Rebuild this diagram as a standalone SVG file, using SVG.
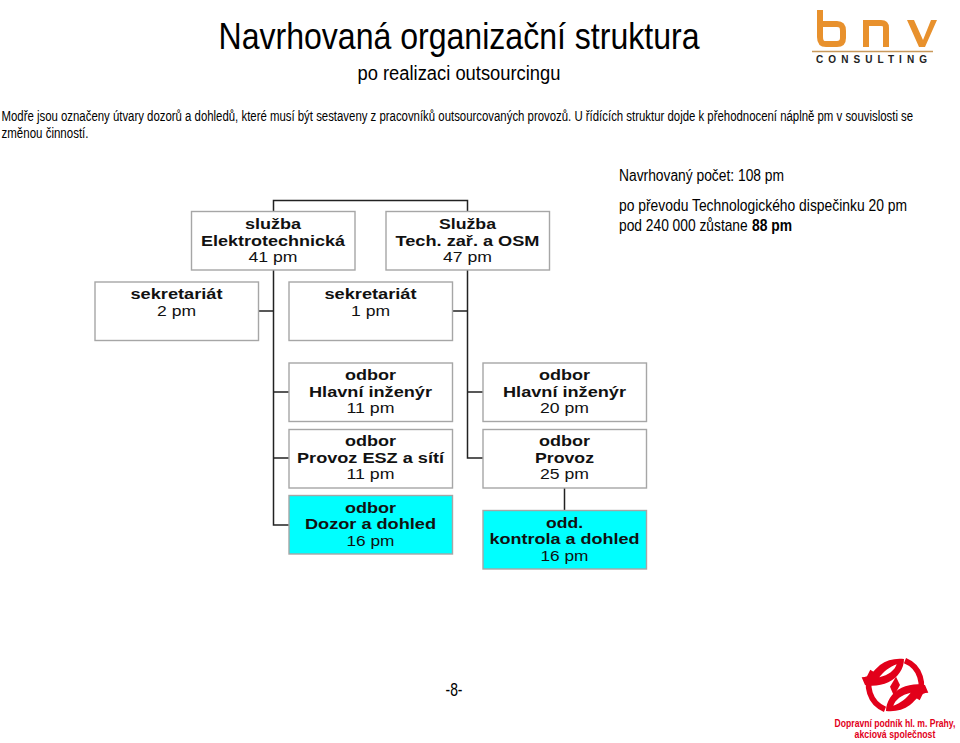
<svg xmlns="http://www.w3.org/2000/svg" width="960" height="743" viewBox="0 0 960 743">
<style>
text{font-family:"Liberation Sans Narrow","Liberation Sans",Arial,sans-serif;fill:#000}
.box{fill:#fff;stroke:#a6a6a6;stroke-width:1.4}
.cy{fill:#00ffff}
.n{font-family:"Liberation Sans",Arial,sans-serif;font-size:14px;text-anchor:middle;fill:#111}
.b{font-weight:700}
.c{fill:none;stroke:#222;stroke-width:1.5}
.w{font-family:"Liberation Sans",Arial,sans-serif}
.r{fill:#e2001a;font-size:10.500px;font-weight:700;text-anchor:middle}
</style>
<rect width="960" height="743" fill="#fff"/>
<text x="459" y="49" font-size="36" text-anchor="middle" textLength="481" lengthAdjust="spacingAndGlyphs">Navrhovaná organizační struktura</text>
<text x="459" y="80" font-size="20" text-anchor="middle" textLength="203" lengthAdjust="spacingAndGlyphs">po realizaci outsourcingu</text>
<text class="w" transform="translate(1.500 121) scale(.825 1)" font-size="13.800" textLength="1105" lengthAdjust="spacingAndGlyphs">Modře jsou označeny útvary dozorů a dohledů, které musí být sestaveny z pracovníků outsourcovaných provozů. U řídících struktur dojde k přehodnocení náplně pm v souvislosti se</text>
<text x="1.500" y="138" font-size="13.800" textLength="87" lengthAdjust="spacingAndGlyphs">změnou činností.</text>
<text x="619" y="181" font-size="16" textLength="165" lengthAdjust="spacingAndGlyphs">Navrhovaný počet: 108 pm</text>
<text x="619" y="211" font-size="16" textLength="288" lengthAdjust="spacingAndGlyphs">po převodu Technologického dispečinku 20 pm</text>
<text class="w" transform="translate(619 231) scale(.825 1)" font-size="16" textLength="156" lengthAdjust="spacingAndGlyphs">pod 240 000 zůstane</text>
<text x="752" y="231" font-size="16" font-weight="700" textLength="40" lengthAdjust="spacingAndGlyphs">88 pm</text>

<g id="connectors">
<path class="c" d="M273.500 211V200.500H467.500V211"/>
<path class="c" d="M273.500 270V525H289M258 311H273.500M273.500 392H289M273.500 458H289"/>
<path class="c" d="M467.500 270V458H483M452 311H467.500M467.500 392H483M564.500 487V510"/>
</g>

<g id="n1"><rect class="box" x="191.500" y="211.500" width="163.500" height="58.500"/><text class="n b" x="273" y="229" textLength="56" lengthAdjust="spacingAndGlyphs">služba</text><text class="n b" x="273" y="245.500" textLength="144" lengthAdjust="spacingAndGlyphs">Elektrotechnická</text><text class="n" x="273" y="262" textLength="49" lengthAdjust="spacingAndGlyphs">41 pm</text></g>
<g id="n2"><rect class="box" x="386" y="211.500" width="163.500" height="58.500"/><text class="n b" x="467.500" y="229" textLength="57" lengthAdjust="spacingAndGlyphs">Služba</text><text class="n b" x="467.500" y="245.500" textLength="144" lengthAdjust="spacingAndGlyphs">Tech. zař. a OSM</text><text class="n" x="467.500" y="262" textLength="49" lengthAdjust="spacingAndGlyphs">47 pm</text></g>
<g id="n3"><rect class="box" x="95" y="282" width="163.500" height="58.500"/><text class="n b" x="176.500" y="299" textLength="92" lengthAdjust="spacingAndGlyphs">sekretariát</text><text class="n" x="176.500" y="315.500" textLength="39" lengthAdjust="spacingAndGlyphs">2 pm</text></g>
<g id="n4"><rect class="box" x="289" y="282" width="163.500" height="58.500"/><text class="n b" x="370.500" y="299" textLength="92" lengthAdjust="spacingAndGlyphs">sekretariát</text><text class="n" x="370.500" y="315.500" textLength="39" lengthAdjust="spacingAndGlyphs">1 pm</text></g>
<g id="n5"><rect class="box" x="289" y="363" width="163.500" height="58.500"/><text class="n b" x="370.500" y="380" textLength="51" lengthAdjust="spacingAndGlyphs">odbor</text><text class="n b" x="370.500" y="396.500" textLength="123" lengthAdjust="spacingAndGlyphs">Hlavní inženýr</text><text class="n" x="370.500" y="413" textLength="48" lengthAdjust="spacingAndGlyphs">11 pm</text></g>
<g id="n6"><rect class="box" x="289" y="429.500" width="163.500" height="58.500"/><text class="n b" x="370.500" y="446" textLength="51" lengthAdjust="spacingAndGlyphs">odbor</text><text class="n b" x="370.500" y="462.500" textLength="147" lengthAdjust="spacingAndGlyphs">Provoz ESZ a sítí</text><text class="n" x="370.500" y="479" textLength="48" lengthAdjust="spacingAndGlyphs">11 pm</text></g>
<g id="n7"><rect class="box cy" x="289" y="495.500" width="163.500" height="58.500"/><text class="n b" x="370.500" y="513" textLength="51" lengthAdjust="spacingAndGlyphs">odbor</text><text class="n b" x="370.500" y="529" textLength="131" lengthAdjust="spacingAndGlyphs">Dozor a dohled</text><text class="n" x="370.500" y="546" textLength="48" lengthAdjust="spacingAndGlyphs">16 pm</text></g>
<g id="n8"><rect class="box" x="483" y="363" width="163.500" height="58.500"/><text class="n b" x="564.500" y="380" textLength="51" lengthAdjust="spacingAndGlyphs">odbor</text><text class="n b" x="564.500" y="396.500" textLength="123" lengthAdjust="spacingAndGlyphs">Hlavní inženýr</text><text class="n" x="564.500" y="413" textLength="49" lengthAdjust="spacingAndGlyphs">20 pm</text></g>
<g id="n9"><rect class="box" x="483" y="429.500" width="163.500" height="58.500"/><text class="n b" x="564.500" y="446" textLength="51" lengthAdjust="spacingAndGlyphs">odbor</text><text class="n b" x="564.500" y="462.500" textLength="59" lengthAdjust="spacingAndGlyphs">Provoz</text><text class="n" x="564.500" y="479" textLength="49" lengthAdjust="spacingAndGlyphs">25 pm</text></g>
<g id="n10"><rect class="box cy" x="483" y="510.500" width="163.500" height="58.500"/><text class="n b" x="564.500" y="528" textLength="37" lengthAdjust="spacingAndGlyphs">odd.</text><text class="n b" x="564.500" y="544" textLength="150" lengthAdjust="spacingAndGlyphs">kontrola a dohled</text><text class="n" x="564.500" y="561" textLength="48" lengthAdjust="spacingAndGlyphs">16 pm</text></g>

<text x="454" y="696" font-size="18" text-anchor="middle" textLength="17" lengthAdjust="spacingAndGlyphs">-8-</text>

<g id="logo-bnv">
<path fill="none" stroke="#e8912d" stroke-width="6" d="M820 10V37C820 42 822 44 826 44H837C841 44 843 42 843 38V31C843 26 841 24 837 24H820"/>
<path fill="none" stroke="#e8912d" stroke-width="6" d="M866 47V23H881C885 23 886 25 886 28V47"/>
<path fill="#e8912d" d="M907 20H914L923 40L931 20H937L925 47H919Z"/>
<path fill="none" stroke="#c9995a" stroke-width="1.300" d="M812 51.500H933"/>
<text class="w" x="816" y="63" font-size="10" font-weight="700" textLength="111" style="fill:#222">CONSULTING</text>
</g>
<g id="logo-dp">
<g transform="translate(820 650) scale(.3333)">
<path fill="none" stroke="#e2001a" stroke-width="17" d="M255 32A78 78 0 0 1 292 146"/>
<path fill="none" stroke="#e2001a" stroke-width="17" d="M195 178A78 78 0 0 1 158 64"/>
<path fill="#e2001a" fill-rule="evenodd" d="M125 82C150 82 160 62 180 45C200 30 225 24 252 27C252 55 235 82 205 97C185 106 158 110 135 105ZM178 82C190 65 210 50 230 43C225 60 205 76 178 82Z"/>
<path fill="#e2001a" fill-rule="evenodd" d="M325 128C300 128 290 148 270 165C250 180 225 186 198 183C198 155 215 128 245 113C265 104 292 100 315 105ZM272 128C260 145 240 160 220 167C225 150 245 134 272 128Z"/>
<path fill="#e2001a" d="M228 80L240 105L222 138L210 110Z"/>
</g>
<text class="w r" transform="translate(895 727) scale(.8 1)" textLength="151" lengthAdjust="spacingAndGlyphs">Dopravní podník hl. m. Prahy,</text>
<text class="w r" transform="translate(895 738) scale(.8 1)" textLength="101" lengthAdjust="spacingAndGlyphs">akciová společnost</text>
</g>
</svg>
